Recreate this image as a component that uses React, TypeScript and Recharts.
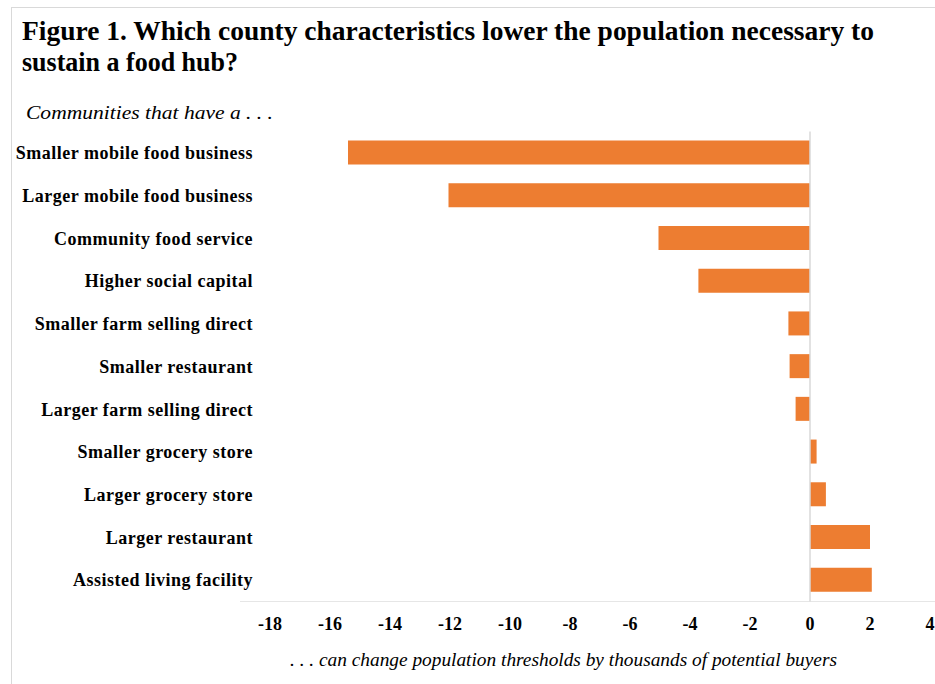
import React from "react";
import {
  BarChart,
  Bar,
  XAxis,
  YAxis,
  ReferenceLine,
} from "recharts";

const categories = [
  "Smaller mobile food business",
  "Larger mobile food business",
  "Community food service",
  "Higher social capital",
  "Smaller farm selling direct",
  "Smaller restaurant",
  "Larger farm selling direct",
  "Smaller grocery store",
  "Larger grocery store",
  "Larger restaurant",
  "Assisted living facility",
];

const changes = [-15.4, -12.05, -5.05, -3.72, -0.72, -0.68, -0.48, 0.22, 0.53, 2.0, 2.06];

const xTicks = [-18, -16, -14, -12, -10, -8, -6, -4, -2, 0, 2, 4];

const data = categories.map((name, i) => ({ name, value: changes[i] }));

const serif = "'Liberation Serif', 'Times New Roman', serif";

export default function App() {
  return (
    <div
      style={{
        position: "absolute",
        left: 0,
        top: 0,
        width: 935,
        height: 684,
        background: "#fff",
        fontFamily: serif,
      }}
    >
      <svg
        width={935}
        height={684}
        style={{ position: "absolute", left: 0, top: 0 }}
      >
        <rect x={11.5} y={7.5} width={940} height={700} fill="none" stroke="#d9d9d9" />
        <line x1={240} x2={935} y1={601.5} y2={601.5} stroke="#e6e6e6" />
        <text
          x={22}
          y={40}
          fontFamily={serif}
          fontWeight="bold"
          fontSize={27}
          textLength={852}
          lengthAdjust="spacingAndGlyphs"
        >
          Figure 1. Which county characteristics lower the population necessary to
        </text>
        <text
          x={22}
          y={71}
          fontFamily={serif}
          fontWeight="bold"
          fontSize={27}
          textLength={216}
          lengthAdjust="spacingAndGlyphs"
        >
          sustain a food hub?
        </text>
        <text
          x={26}
          y={119}
          fontFamily={serif}
          fontStyle="italic"
          fontSize={18}
          textLength={247}
          lengthAdjust="spacingAndGlyphs"
        >
          Communities that have a . . .
        </text>
        <text
          x={290}
          y={666}
          fontFamily={serif}
          fontStyle="italic"
          fontSize={18}
          textLength={547}
          lengthAdjust="spacingAndGlyphs"
        >
          . . . can change population thresholds by thousands of potential buyers
        </text>
      </svg>
      <div style={{ position: "absolute", left: 0, top: 0 }}>
        <BarChart
          width={935}
          height={684}
          data={data}
          layout="vertical"
          margin={{ top: 131.6, right: 5, bottom: 52.6, left: 10 }}
        >
          <XAxis
            type="number"
            domain={[-18, 4]}
            ticks={xTicks}
            interval={0}
            axisLine={false}
            tickLine={false}
            tickMargin={10}
            height={30}
            tick={{ fill: "#000", fontSize: 18, fontWeight: "bold", fontFamily: serif }}
          />
          <YAxis
            type="category"
            dataKey="name"
            width={260}
            axisLine={false}
            tickLine={false}
            tickMargin={11}
            interval={0}
            tick={{
              fill: "#000",
              fontSize: 18,
              fontWeight: "bold",
              fontFamily: serif,
              letterSpacing: 0.5,
            }}
          />
          <ReferenceLine x={0} stroke="#d9d9d9" strokeWidth={1.5} />
          <Bar dataKey="value" fill="#ED7D31" barSize={24} isAnimationActive={false} />
        </BarChart>
      </div>
    </div>
  );
}
